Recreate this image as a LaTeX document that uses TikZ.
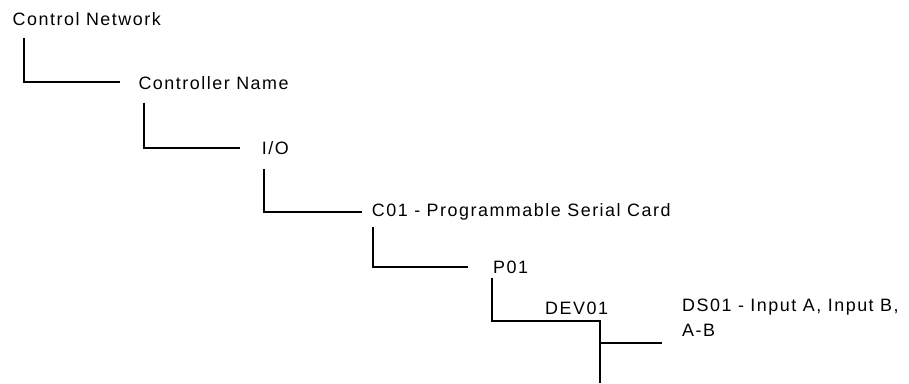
\documentclass[tikz,border=0pt]{standalone}
\usepackage{fontspec}
\setmainfont[LetterSpace=8.5]{Liberation Sans}
\begin{document}
\begin{tikzpicture}[x=1pt,y=-1pt,
  lbl/.style={anchor=base west,inner sep=0pt,font=\fontsize{17.9}{25}\selectfont,text=black},
  elbow/.style={draw=black,line width=1.8pt,line join=miter}]
\useasboundingbox (0,0) rectangle (909,383);
% labels
\node[lbl] (cn)   at (12.5,25.3)  {Control Network};
\node[lbl] (ctrl) at (138.3,89.6) {Controller Name};
\node[lbl] (io)   at (261.7,154) {I/O};
\node[lbl] (c01)  at (371.7,216.5) {C01 - Programmable Serial Card};
\node[lbl] (p01)  at (493,273) {P01};
\node[lbl] (dev)  at (545,314.3) {DEV01};
\node[lbl,align=left] (ds) at (682,336.7) {DS01 - Input A, Input B,\\A-B};
% connector end points
\coordinate (s1) at (24,38.3);    \coordinate (t1) at (120,82);
\coordinate (s2) at (144,102.7);  \coordinate (t2) at (240,148.3);
\coordinate (s3) at (264,169.3);  \coordinate (t3) at (361.7,211.7);
\coordinate (s4) at (372.7,226.7); \coordinate (t4) at (468.3,267.3);
\coordinate (s5) at (492,277.5);  \coordinate (t5) at (600,321);
\coordinate (b5) at (600,383);
\coordinate (s6) at (600,343);    \coordinate (t6) at (662,343);
% connectors
\draw[elbow] (s1) |- (t1);
\draw[elbow] (s2) |- (t2);
\draw[elbow] (s3) |- (t3);
\draw[elbow] (s4) |- (t4);
\draw[elbow] (s5) |- (t5) -- (b5);
\draw[elbow] (s6) -- (t6);
\end{tikzpicture}
\end{document}
